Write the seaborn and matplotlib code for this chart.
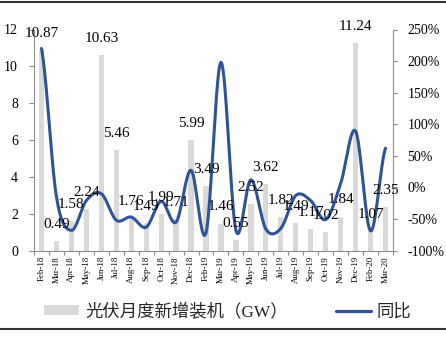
import numpy as np
import pandas as pd
import matplotlib
matplotlib.use("Agg")
import matplotlib.pyplot as plt
import seaborn as sns
from matplotlib.lines import Line2D
from matplotlib.patches import Patch
from matplotlib.ticker import FuncFormatter, MultipleLocator, FixedLocator

months = ["Feb-18", "Mar-18", "Apr-18", "May-18", "Jun-18", "Jul-18", "Aug-18", "Sep-18",
          "Oct-18", "Nov-18", "Dec-18", "Feb-19", "Mar-19", "Apr-19", "May-19", "Jun-19",
          "Jul-19", "Aug-19", "Sep-19", "Oct-19", "Nov-19", "Dec-19", "Feb-20", "Mar-20"]
installed_gw = [10.87, 0.49, 1.58, 2.24, 10.63, 5.46, 1.76, 1.49, 1.99, 1.71, 5.99, 3.49,
                1.46, 0.55, 2.52, 3.62, 1.82, 1.49, 1.17, 1.02, 1.84, 11.24, 1.07, 2.35]
yoy_pct = [220, -15, -68, -21, -10, -52, -47, -63, -22, -55, 27, -72,
           198, -68, 12, -66, -65, -13, -21, -51, 6, 89, -69, 62]

bar_label = "光伏月度新增装机（GW）"
line_label = "同比"

sns.set_theme(style="white")
plt.rcParams['font.family'] = ['Liberation Serif', 'Noto Sans CJK SC', 'DejaVu Sans']

BAR_COLOR = "#d9d9d9"
LINE_COLOR = "#2E5496"
AXIS_COLOR = "#8c8c8c"

fig = plt.figure(figsize=(4.46, 3.38), dpi=100)
ax = fig.add_axes([34 / 446, (338 - 250.5) / 338, (393 - 34) / 446, 221 / 338])

df = pd.DataFrame({"month": months, "gw": installed_gw})
sns.barplot(data=df, x="month", y="gw", color=BAR_COLOR, width=0.35, ax=ax,
            saturation=1, edgecolor="none")
ax.set_xlim(-0.5, len(months) - 0.5)
ax.set_ylim(0, 12)
ax.set_xlabel("")
ax.set_ylabel("")
ax.yaxis.set_major_locator(MultipleLocator(2))

ax2 = ax.twinx()

# smooth curve through the yoy points (Catmull-Rom, like Excel smoothed line)
def catmull_rom(y, n=20):
    y = np.asarray(y, dtype=float)
    p = np.concatenate([[y[0]], y, [y[-1]]])
    xs, ys = [], []
    for i in range(len(y) - 1):
        p0, p1, p2, p3 = p[i], p[i + 1], p[i + 2], p[i + 3]
        t = np.linspace(0, 1, n, endpoint=False)
        seg = 0.5 * ((2 * p1) + (-p0 + p2) * t + (2 * p0 - 5 * p1 + 4 * p2 - p3) * t ** 2
                     + (-p0 + 3 * p1 - 3 * p2 + p3) * t ** 3)
        xs.append(i + t)
        ys.append(seg)
    xs.append([len(y) - 1])
    ys.append([y[-1]])
    return np.concatenate(xs), np.concatenate(ys)

sx, sy = catmull_rom(yoy_pct)
sdf = pd.DataFrame({"x": sx, "y": sy})
sns.lineplot(data=sdf, x="x", y="y", sort=False, color=LINE_COLOR, linewidth=2.2, ax=ax2)
ax2.set_ylim(-100, 250)
ax2.set_xlim(-0.5, len(months) - 0.5)
ax2.set_xlabel("")
ax2.set_ylabel("")
ax2.yaxis.set_major_locator(MultipleLocator(50))
ax2.yaxis.set_major_formatter(FuncFormatter(lambda v, p: f"{int(v)}%"))

# bar value labels
for i, v in enumerate(installed_gw):
    ax2.annotate(f"{v:.2f}", xy=(i, v), xycoords=ax.transData, xytext=(0, 12),
                 textcoords="offset points", ha="center", va="center",
                 fontsize=11, color="black", family="Liberation Serif")

# spines & ticks
for a in (ax, ax2):
    for s in a.spines.values():
        s.set_visible(False)
ax.spines["left"].set_visible(True)
ax.spines["left"].set_color(AXIS_COLOR)
ax.spines["left"].set_linewidth(0.8)
ax.spines["bottom"].set_visible(True)
ax.spines["bottom"].set_color(AXIS_COLOR)
ax.spines["bottom"].set_linewidth(0.8)
ax2.spines["right"].set_visible(True)
ax2.spines["right"].set_color(AXIS_COLOR)
ax2.spines["right"].set_linewidth(0.8)

ax.tick_params(axis="y", left=True, length=3.5, width=0.8, color=AXIS_COLOR, pad=8,
               labelsize=10, labelcolor="black", direction="out")
ax2.tick_params(axis="y", right=True, length=3, width=0.8, color=AXIS_COLOR, pad=7.5,
                labelsize=10, labelcolor="black", direction="out")
for lab in ax.get_yticklabels() + ax2.get_yticklabels():
    lab.set_family("Liberation Serif")

ax.set_xticks(range(len(months)))
ax.set_xticklabels(months, rotation=90, fontsize=6.4, family="Liberation Serif", color="black")
ax.xaxis.set_minor_locator(FixedLocator(np.arange(-0.5, len(months), 1.0)))
ax.tick_params(axis="x", which="major", length=0, pad=4)
ax.tick_params(axis="x", which="minor", bottom=True, length=3, width=0.8, color=AXIS_COLOR,
               direction="out")
ax.grid(False)
ax2.grid(False)

# legend
handles = [Patch(facecolor=BAR_COLOR, edgecolor="none", label=bar_label),
           Line2D([0], [0], color=LINE_COLOR, linewidth=2.3, label=line_label)]
fig.legend(handles=handles, loc="center", bbox_to_anchor=(0.511, 0.078), ncol=2,
           frameon=False, prop={"size": 12.5, "family": ["Liberation Serif", "Noto Sans CJK SC"]},
           handlelength=2.0, handleheight=0.45, handletextpad=0.35, columnspacing=2.8,
           borderaxespad=0)

# frame lines top and bottom
fig.add_artist(Line2D([0, 1], [1 - 2 / 338, 1 - 2 / 338], transform=fig.transFigure,
                      color="#333333", linewidth=1.5))
fig.add_artist(Line2D([0, 1], [1 - 328.5 / 338, 1 - 328.5 / 338], transform=fig.transFigure,
                      color="#333333", linewidth=1.5))

fig.savefig("out.png", dpi=100)
